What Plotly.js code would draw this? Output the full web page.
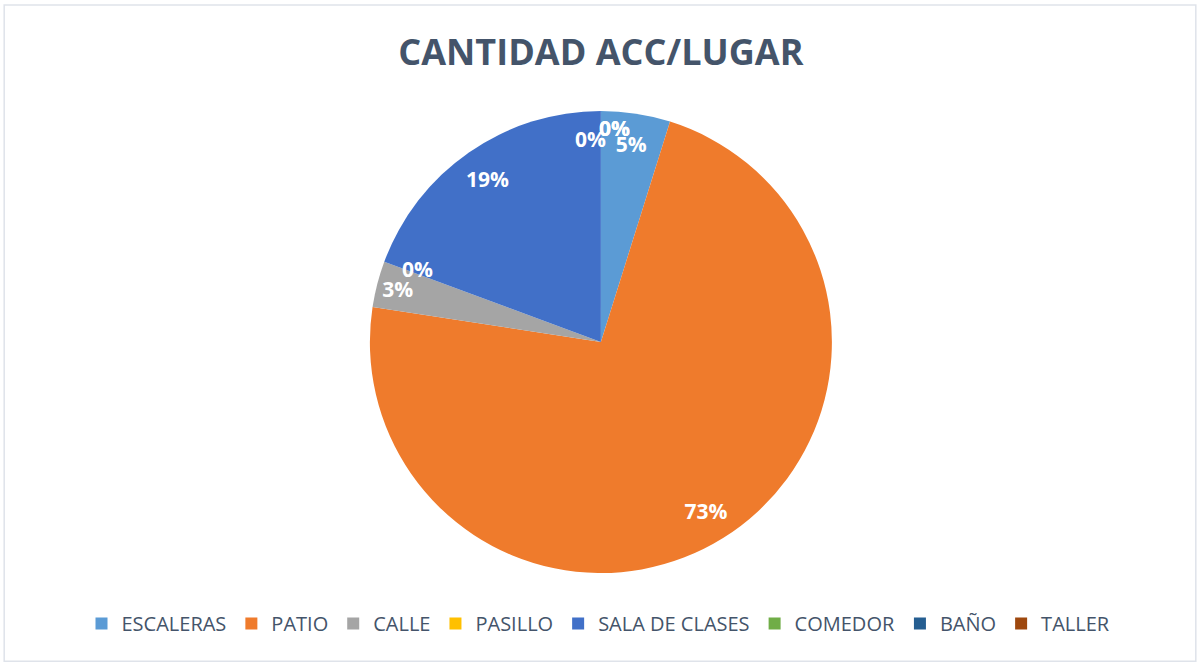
<!DOCTYPE html>
<html>
<head>
<meta charset="utf-8">
<script src="https://cdn.plot.ly/plotly-3.0.1.min.js"></script>
<style>html,body{margin:0;padding:0;background:#fff;}#chart{width:1197px;height:662px;}</style>
</head>
<body>
<div id="chart"></div>
<script>
var categories = ["ESCALERAS", "PATIO", "CALLE", "PASILLO", "SALA DE CLASES", "COMEDOR", "BAÑO", "TALLER"];
var counts = [3, 45, 2, 0, 12, 0, 0, 0];
var sliceColors = ["#5b9bd5", "#ef7b2c", "#a5a5a5", "#ffc000", "#4170c8", "#70ad47", "#255e91", "#9e480e"];
var chartTitle = "CANTIDAD ACC/LUGAR";

var W = 1197, H = 662;
var pieDomain = {x: [0.2, 0.804], y: [0.1344, 0.8323]};
var labelFont = {family: "Open Sans", size: 21, color: "#ffffff", weight: "bold"};
var labelRadius = 0.86;

// main filled pie (no text)
var pie = {
  type: "pie",
  labels: categories,
  values: counts,
  sort: false,
  direction: "clockwise",
  rotation: 0,
  marker: {colors: sliceColors, line: {width: 0}},
  textinfo: "none",
  showlegend: true,
  domain: pieDomain,
  hoverinfo: "label+percent"
};

// transparent ring on top, only to place the percentage labels near the rim
var ring = {
  type: "pie",
  labels: categories,
  values: counts,
  sort: false,
  direction: "clockwise",
  rotation: 0,
  hole: 2 * labelRadius - 1,
  marker: {colors: categories.map(function(){return "rgba(0,0,0,0)";}), line: {width: 0}},
  textinfo: "percent",
  texttemplate: "%{percent:.0%}",
  textposition: "inside",
  insidetextorientation: "horizontal",
  insidetextfont: labelFont,
  showlegend: false,
  domain: pieDomain,
  hoverinfo: "skip"
};

var layout = {
  width: W,
  height: H,
  margin: {l: 0, r: 0, t: 0, b: 0},
  paper_bgcolor: "#ffffff",
  title: {
    text: chartTitle,
    x: 0.502, xanchor: "center",
    y: 0.921, yanchor: "middle",
    font: {family: "Open Sans", size: 36, color: "#44546a", weight: "bold"}
  },
  legend: {
    orientation: "h",
    x: 0.5, xanchor: "center",
    y: 0.058, yanchor: "middle",
    font: {family: "Open Sans", size: 20, color: "#44546a"},
    traceorder: "normal",
    itemclick: false
  },
  shapes: [{
    type: "rect", xref: "paper", yref: "paper",
    x0: 0.0035, x1: 0.999, y0: 0.001, y1: 0.9925,
    line: {color: "#dfe3ea", width: 1.5}
  }]
};

var gd = document.getElementById("chart");
Plotly.newPlot(gd, [pie, ring], layout, {displayModeBar: false, staticPlot: true}).then(function() {
  // zero-valued slices get no inside text from Plotly: label them at the slice's angle
  var cd0 = gd.calcdata && gd.calcdata[0] && gd.calcdata[0][0];
  var cx = (cd0 && isFinite(cd0.cx)) ? cd0.cx : W * (pieDomain.x[0] + pieDomain.x[1]) / 2;
  var cy = (cd0 && isFinite(cd0.cy)) ? cd0.cy : H * (1 - (pieDomain.y[0] + pieDomain.y[1]) / 2);
  var r = (cd0 && isFinite(cd0.r)) ? cd0.r : Math.min(W * (pieDomain.x[1] - pieDomain.x[0]), H * (pieDomain.y[1] - pieDomain.y[0])) / 2;
  var total = counts.reduce(function(a, b){return a + b;}, 0);
  var cum = 0, anns = [], clusterIdx = 0;
  var clusterShift = [[-10, 4], [14, 15], [14, 15]];
  counts.forEach(function(v, i) {
    if (v === 0) {
      var ang = 2 * Math.PI * cum / total;
      var px = cx + labelRadius * r * Math.sin(ang);
      var py = cy - labelRadius * r * Math.cos(ang);
      var sh = [3, 4];
      if (cum === total) { sh = clusterShift[Math.min(clusterIdx, clusterShift.length - 1)]; clusterIdx++; }
      anns.push({
        xref: "paper", yref: "paper", x: px / W, y: 1 - py / H,
        xanchor: "center", yanchor: "middle", showarrow: false,
        text: "0%", font: labelFont, xshift: sh[0], yshift: sh[1]
      });
    }
    cum += v;
  });
  return Plotly.relayout(gd, {annotations: anns});
});
</script>
</body>
</html>
